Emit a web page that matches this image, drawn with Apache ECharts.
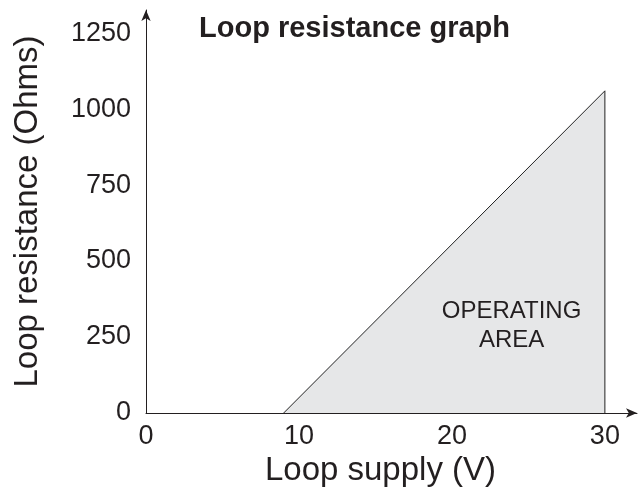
<!DOCTYPE html>
<html lang="en">
<head>
    <meta charset="UTF-8">
    <title>Loop resistance graph</title>
    <script src="https://cdn.jsdelivr.net/npm/echarts@6/dist/echarts.min.js"></script>
    <style>
        html, body { margin: 0; padding: 0; background: #fff; }
        #chart { width: 640px; height: 488px; }
    </style>
</head>
<body>
    <div id="chart"></div>
    <script>
        // operating area corners (V, Ohms)
        let supplyV = [9, 30, 30];
        let resistance = [0, 1060, 0];
        // label position in data units
        let areaLabelPos = [23.9, 286];
        let xTicks = [0, 10, 20, 30];
        let yTicks = [0, 250, 500, 750, 1000, 1250];

        let chart = echarts.init(document.getElementById('chart'));
        let font = 'Liberation Sans, Arial, sans-serif';
        let ink = '#231f20';

        let areaData = supplyV.map(function (v, i) { return [v, resistance[i]]; });

        let option = {
            animation: false,
            title: {
                text: 'Loop resistance graph',
                left: 194,
                top: 9,
                textStyle: { fontFamily: font, fontSize: 29, fontWeight: 'bold', color: ink }
            },
            grid: { left: 146, right: 3, top: 10, bottom: 75, outerBoundsMode: 'none', containLabel: false },
            xAxis: {
                type: 'value',
                min: 0,
                max: 32.1,
                interval: 10,
                name: 'Loop supply (V)',
                nameLocation: 'middle',
                nameGap: 38,
                nameTextStyle: { fontFamily: font, fontSize: 33, color: ink, padding: [0, 22, 0, 0] },
                axisLine: { lineStyle: { color: ink, width: 1 }, symbol: ['none', 'arrow'], symbolSize: [7, 11] },
                axisTick: { show: false },
                splitLine: { show: false },
                axisLabel: {
                    fontFamily: font, fontSize: 27, color: ink, margin: 10,
                    showMaxLabel: false,
                    formatter: function (v) { return xTicks.indexOf(v) >= 0 ? v : ''; }
                }
            },
            yAxis: {
                type: 'value',
                min: 0,
                max: 1326,
                interval: 250,
                name: 'Loop resistance (Ohms)',
                nameLocation: 'middle',
                nameGap: 102,
                nameTextStyle: { fontFamily: font, fontSize: 33, color: ink },
                axisLine: { lineStyle: { color: ink, width: 1 }, symbol: ['none', 'arrow'], symbolSize: [7, 11] },
                axisTick: { show: false },
                splitLine: { show: false },
                axisLabel: {
                    fontFamily: font, fontSize: 27, color: ink, margin: 15,
                    showMaxLabel: false,
                    formatter: function (v) { return yTicks.indexOf(v) >= 0 ? v : ''; }
                }
            },
            series: [{
                type: 'line',
                data: areaData,
                symbol: 'none',
                lineStyle: { color: '#222', width: 1 },
                areaStyle: { color: '#e6e7e8', opacity: 1 }
            }]
        };
        chart.setOption(option);

        // "OPERATING AREA" text placed through the axes
        let p = chart.convertToPixel({ gridIndex: 0 }, areaLabelPos);
        chart.setOption({
            graphic: [{
                type: 'text',
                x: p[0],
                y: p[1],
                z: 10,
                style: {
                    text: 'OPERATING\nAREA',
                    fontFamily: font,
                    fontSize: 24,
                    lineHeight: 29,
                    fill: ink,
                    align: 'center',
                    verticalAlign: 'middle'
                }
            }]
        });
    </script>
</body>
</html>
